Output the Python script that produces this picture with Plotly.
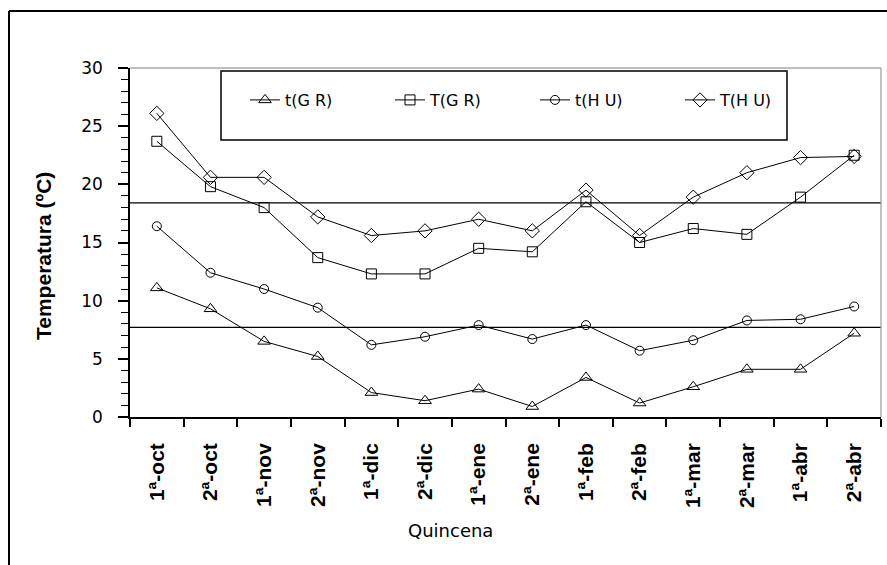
import plotly.graph_objects as go

quincenas = ["1ª-oct", "2ª-oct", "1ª-nov", "2ª-nov", "1ª-dic", "2ª-dic", "1ª-ene",
             "2ª-ene", "1ª-feb", "2ª-feb", "1ª-mar", "2ª-mar", "1ª-abr", "2ª-abr"]
t_gr = [11.1, 9.3, 6.5, 5.2, 2.1, 1.4, 2.4, 0.9, 3.4, 1.2, 2.6, 4.1, 4.1, 7.2]
T_gr = [23.7, 19.8, 18.0, 13.7, 12.3, 12.3, 14.5, 14.2, 18.5, 15.0, 16.2, 15.7, 18.9, 22.5]
t_hu = [16.4, 12.4, 11.0, 9.4, 6.2, 6.9, 7.9, 6.7, 7.9, 5.7, 6.6, 8.3, 8.4, 9.5]
T_hu = [26.1, 20.6, 20.6, 17.2, 15.6, 16.0, 17.0, 16.0, 19.5, 15.6, 18.9, 21.0, 22.3, 22.4]
ref_lines = [18.4, 7.7]
y_ticks = [0, 5, 10, 15, 20, 25, 30]

series = [
    ("t(G R)", t_gr, "triangle-up-open", 11),
    ("T(G R)", T_gr, "square-open", 10),
    ("t(H U)", t_hu, "circle-open", 9),
    ("T(H U)", T_hu, "diamond-open", 11),
]

fig = go.Figure()
for name, vals, sym, sz in series:
    fig.add_trace(go.Scatter(
        x=quincenas, y=vals, name=name, mode="lines+markers",
        line=dict(color="black", width=1),
        marker=dict(symbol=sym, size=sz, color="black", line=dict(color="black", width=1)),
    ))

for v in ref_lines:
    fig.add_hline(y=v, line=dict(color="black", width=1.2), layer="below")

# plot-area pixel geometry helpers
L, R, T, B, W, H = 130, 6, 68, 148, 887, 565
pw, ph = W - L - R, H - T - B
def px(x):
    return (x - L) / pw
def py(y):
    return (H - B - y) / ph

shapes = [
    # legend box
    dict(type="rect", xref="paper", yref="paper", x0=px(221), x1=px(787), y0=py(140), y1=py(71),
         line=dict(color="black", width=1.5), fillcolor="white", layer="below"),
    # plot area top and right border
    dict(type="line", xref="paper", yref="paper", x0=0, x1=1, y0=1, y1=1,
         line=dict(color="#808080", width=1.2)),
    dict(type="line", xref="paper", yref="paper", x0=1, x1=1, y0=0, y1=1,
         line=dict(color="#999999", width=1.2)),
    # outer frame (top and left)
    dict(type="line", xref="paper", yref="paper", x0=px(9), x1=px(890), y0=py(11), y1=py(11),
         line=dict(color="black", width=2)),
    dict(type="line", xref="paper", yref="paper", x0=px(9), x1=px(9), y0=py(11), y1=py(568),
         line=dict(color="black", width=2)),
]
for s in shapes:
    fig.add_shape(**s)

fig.add_annotation(text="<b>Temperatura (ºC)</b>", xref="paper", yref="paper",
                   x=px(43), y=py(256), textangle=-90, showarrow=False,
                   font=dict(family="Liberation Sans, Arial", size=21, color="black"),
                   xanchor="center", yanchor="middle")
fig.add_annotation(text="Quincena", xref="paper", yref="paper",
                   x=px(450), y=py(530), showarrow=False,
                   font=dict(family="DejaVu Sans", size=18, color="black"),
                   xanchor="center", yanchor="middle")

fig.update_layout(
    width=W, height=H,
    margin=dict(l=L, r=R, t=T, b=B),
    paper_bgcolor="white", plot_bgcolor="white",
    showlegend=True,
    legend=dict(orientation="h", x=px(245), y=py(83), xanchor="left", yanchor="top",
                bgcolor="rgba(0,0,0,0)", borderwidth=0,
                font=dict(family="DejaVu Sans", size=16, color="black"),
                entrywidth=100, entrywidthmode="pixels", traceorder="normal"),
    xaxis=dict(
        type="category", range=[-0.5, 13.5], showgrid=False, zeroline=False,
        showline=True, linecolor="black", linewidth=1.5,
        ticks="outside", tickson="boundaries", ticklen=8, tickcolor="black", tickwidth=1.5,
        tickangle=-90, ticklabelstandoff=16,
        tickfont=dict(family="Liberation Sans, Arial", size=21, color="black", weight="bold"),
    ),
    yaxis=dict(
        range=[0, 30], tickvals=y_ticks, showgrid=False, zeroline=False,
        showline=True, linecolor="black", linewidth=1.5,
        ticks="outside", ticklen=10, tickcolor="black", tickwidth=1.5,
        ticklabelstandoff=12,
        minor=dict(dtick=1, ticks="outside", ticklen=7, tickcolor="black", tickwidth=1.2),
        tickfont=dict(family="DejaVu Sans", size=17, color="black"),
    ),
)

fig.write_html("out.html", config={"displayModeBar": False},
               post_script="document.body.style.margin='0';document.body.style.overflow='hidden';")
